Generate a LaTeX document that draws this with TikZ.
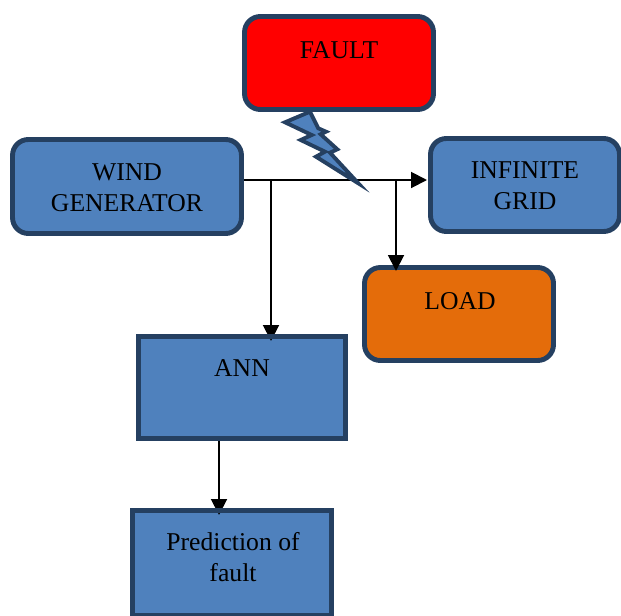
\documentclass[tikz,border=0pt]{standalone}
\usepackage{fontspec}
\setmainfont{Liberation Serif}
\usetikzlibrary{arrows.meta}
\definecolor{boxblue}{HTML}{4F81BD}
\definecolor{boxedge}{HTML}{254061}
\definecolor{loadorange}{HTML}{E46C0A}

\begin{document}
\begin{tikzpicture}[x=0.02cm, y=-0.02cm,
    roundbox/.style={draw=boxedge, line width=2.8pt, rounded corners=9pt, fill=boxblue, minimum width=3.78cm, minimum height=1.86cm, inner sep=0pt},
    flatbox/.style={draw=boxedge, line width=2.8pt, fill=boxblue, inner sep=0pt},
    boxtext/.style={font=\fontsize{14.6pt}{17.8pt}\selectfont, text=black, align=center, inner sep=0pt},
    flow/.style={black, line width=1.1pt, -{Triangle[length=9pt, width=9pt]}}]
  \useasboundingbox (0,0) rectangle (621,615);
  % boxes
  \node[roundbox, fill=red] (fault) at (339,63) {};
  \node[roundbox, minimum width=4.58cm, minimum height=1.88cm] (wind) at (127,186.5) {};
  \node[roundbox] (grid) at (525,185) {};
  \node[roundbox, fill=loadorange] (load) at (459,314) {};
  \node[flatbox, minimum width=4.14cm, minimum height=2.04cm] (ann) at (242,387.5) {};
  \node[flatbox, minimum width=3.98cm, minimum height=2.1cm] (pred) at (232,563) {};
  % bus line
  \coordinate (busstart) at (244,180);
  \coordinate (busend) at (427,180);
  \coordinate (annbranch) at (271,180);
  \coordinate (loadbranch) at (396,180);
  \coordinate (annout) at (219,441);
  \coordinate (annend) at (271,341);
  \coordinate (loadend) at (396,271);
  \coordinate (predend) at (219,515);
  \draw[flow] (busstart) -- (busend);
  \draw[flow] (annbranch) -- (annend);
  \draw[flow] (loadbranch) -- (loadend);
  \draw[flow] (annout) -- (predend);
  % boxes again over the arrow tips
  \node[flatbox, fill=none, minimum width=4.14cm, minimum height=2.04cm] (annedge) at (242,387.5) {};
  \node[flatbox, fill=none, minimum width=3.98cm, minimum height=2.1cm] (prededge) at (232,563) {};
  % lightning
  \draw[draw=boxedge, line width=2.2pt, fill=boxblue, line join=miter] (285,122.3) -- (310,111.7) -- (318.3,128.3) -- (326,131.7) -- (320.7,134.3) -- (337.3,149.3) -- (330,152.7) -- (358.3,183.3) -- (316,156.7) -- (325,151.7) -- (300.7,140) -- (311.7,135) -- cycle;
  % texts
  \node[boxtext] (faulttext) at (339,50) {FAULT};
  \node[boxtext] (windtext) at (127,188) {WIND\\GENERATOR};
  \node[boxtext] (gridtext) at (525,186) {INFINITE\\GRID};
  \node[boxtext] (loadtext) at (460,301) {LOAD};
  \node[boxtext] (anntext) at (242,368) {ANN};
  \node[boxtext] (predtext) at (233,557) {Prediction of\\fault};
\end{tikzpicture}
\end{document}
